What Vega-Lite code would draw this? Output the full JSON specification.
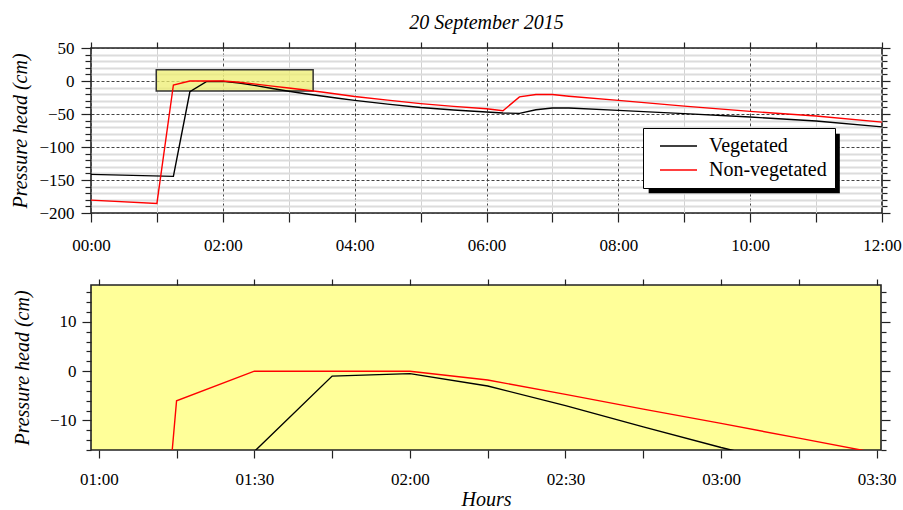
{
  "$schema": "https://vega.github.io/schema/vega-lite/v6.json",
  "padding": {"left": 10, "top": 12, "right": 2, "bottom": 0},
  "background": "white",
  "config": {
    "font": "Liberation Serif",
    "axis": {"domain": false, "labelFont": "Liberation Serif", "labelFontSize": 17, "labelColor": "#000", "titleFont": "Liberation Serif", "titleFontSize": 20, "titleFontWeight": "normal", "titleColor": "#000", "tickColor": "#222", "tickWidth": 1.2, "labelFlush": false, "labelOverlap": false},
    "view": {"stroke": "#222", "strokeWidth": 1.6}
  },
  "datasets": {
    "series": [
      {"site": "Vegetated", "hour": 0, "head": -141.5},
      {"site": "Vegetated", "hour": 1.25, "head": -144.5},
      {"site": "Vegetated", "hour": 1.5, "head": -16.3},
      {"site": "Vegetated", "hour": 1.75, "head": -1},
      {"site": "Vegetated", "hour": 2.0, "head": -0.5},
      {"site": "Vegetated", "hour": 2.25, "head": -3},
      {"site": "Vegetated", "hour": 2.5, "head": -7},
      {"site": "Vegetated", "hour": 2.75, "head": -11.3},
      {"site": "Vegetated", "hour": 3.0, "head": -15.5},
      {"site": "Vegetated", "hour": 3.25, "head": -19.3},
      {"site": "Vegetated", "hour": 3.5, "head": -22.8},
      {"site": "Vegetated", "hour": 3.75, "head": -26.2},
      {"site": "Vegetated", "hour": 4.0, "head": -29.3},
      {"site": "Vegetated", "hour": 4.5, "head": -35},
      {"site": "Vegetated", "hour": 5.0, "head": -40.2},
      {"site": "Vegetated", "hour": 5.5, "head": -44},
      {"site": "Vegetated", "hour": 6.0, "head": -47},
      {"site": "Vegetated", "hour": 6.25, "head": -48.5},
      {"site": "Vegetated", "hour": 6.5, "head": -49},
      {"site": "Vegetated", "hour": 6.75, "head": -43.5},
      {"site": "Vegetated", "hour": 7.0, "head": -41},
      {"site": "Vegetated", "hour": 7.25, "head": -41},
      {"site": "Vegetated", "hour": 8.0, "head": -44.5},
      {"site": "Vegetated", "hour": 9.0, "head": -49.5},
      {"site": "Vegetated", "hour": 10.0, "head": -54.6},
      {"site": "Vegetated", "hour": 11.0, "head": -60.6},
      {"site": "Vegetated", "hour": 12.0, "head": -69.5},
      {"site": "Non-vegetated", "hour": 0, "head": -180.5},
      {"site": "Non-vegetated", "hour": 1.0, "head": -185.5},
      {"site": "Non-vegetated", "hour": 1.25, "head": -6},
      {"site": "Non-vegetated", "hour": 1.5, "head": 0},
      {"site": "Non-vegetated", "hour": 1.75, "head": 0},
      {"site": "Non-vegetated", "hour": 2.0, "head": 0},
      {"site": "Non-vegetated", "hour": 2.25, "head": -1.8},
      {"site": "Non-vegetated", "hour": 2.5, "head": -4.7},
      {"site": "Non-vegetated", "hour": 2.75, "head": -7.7},
      {"site": "Non-vegetated", "hour": 3.0, "head": -10.6},
      {"site": "Non-vegetated", "hour": 3.25, "head": -13.6},
      {"site": "Non-vegetated", "hour": 3.5, "head": -16.6},
      {"site": "Non-vegetated", "hour": 3.75, "head": -20},
      {"site": "Non-vegetated", "hour": 4.0, "head": -23.5},
      {"site": "Non-vegetated", "hour": 4.5, "head": -29},
      {"site": "Non-vegetated", "hour": 5.0, "head": -34.2},
      {"site": "Non-vegetated", "hour": 5.5, "head": -38.5},
      {"site": "Non-vegetated", "hour": 6.0, "head": -42},
      {"site": "Non-vegetated", "hour": 6.25, "head": -45},
      {"site": "Non-vegetated", "hour": 6.5, "head": -24},
      {"site": "Non-vegetated", "hour": 6.75, "head": -20.5},
      {"site": "Non-vegetated", "hour": 7.0, "head": -20.5},
      {"site": "Non-vegetated", "hour": 7.25, "head": -23},
      {"site": "Non-vegetated", "hour": 8.0, "head": -29.4},
      {"site": "Non-vegetated", "hour": 9.0, "head": -38},
      {"site": "Non-vegetated", "hour": 10.0, "head": -46},
      {"site": "Non-vegetated", "hour": 11.0, "head": -53},
      {"site": "Non-vegetated", "hour": 12.0, "head": -62.3}
    ],
    "box": [{"x1": 0.99, "x2": 3.37, "y1": -15, "y2": 17}],
    "shadow": [{"x1": 8.46, "x2": 11.36, "y1": -170, "y2": -80}]
  },
  "resolve": {"scale": {"color": "independent"}, "legend": {"color": "independent"}},
  "spacing": 23,
  "vconcat": [
    {
      "width": 791,
      "height": 165,
      "title": {"text": "20 September 2015", "font": "Liberation Serif", "fontSize": 20, "fontStyle": "italic", "fontWeight": "normal", "color": "#000", "frame": "group", "anchor": "middle", "offset": 6},
      "resolve": {"axis": {"x": "independent", "y": "independent"}},
      "layer": [
        {
          "data": {"name": "box"},
          "mark": {"type": "rect", "fill": "#eeee70", "fillOpacity": 0.75, "stroke": "#333", "strokeWidth": 1.5},
          "encoding": {
            "x": {"field": "x1", "type": "quantitative", "scale": {"domain": [0, 12], "nice": false, "zero": false},
              "axis": {"orient": "bottom", "title": null, "values": [0,1,2,3,4,5,6,7,8,9,10,11,12],
                "labelExpr": "datum.value % 2 === 0 ? (datum.value < 10 ? '0' : '') + datum.value + ':00' : ''",
                "tickSize": 9, "labelPadding": 15, "grid": true,
                "gridColor": {"condition": {"test": "datum.value % 2 === 0", "value": "#444"}, "value": "#d2d2d2"},
                "gridDash": {"condition": {"test": "datum.value % 2 === 0", "value": [3, 2]}, "value": []},
                "gridWidth": 1}},
            "x2": {"field": "x2"},
            "y": {"field": "y1", "type": "quantitative", "scale": {"domain": [-200, 50], "nice": false, "zero": false},
              "axis": {"orient": "left", "title": "Pressure head (cm)", "titleFontStyle": "italic", "titlePadding": 8,
                "values": [-200,-190,-180,-170,-160,-150,-140,-130,-120,-110,-100,-90,-80,-70,-60,-50,-40,-30,-20,-10,0,10,20,30,40,50],
                "labelExpr": "datum.value % 50 === 0 ? datum.label : ''",
                "tickSize": {"condition": {"test": "datum.value % 50 !== 0", "value": 6}, "value": 10},
                "labelPadding": 7, "grid": true,
                "gridColor": {"condition": {"test": "datum.value % 50 === 0", "value": "#444"}, "value": "#dcdcdc"},
                "gridDash": {"condition": {"test": "datum.value % 50 === 0", "value": [3, 2]}, "value": []},
                "gridWidth": {"condition": {"test": "datum.value % 50 === 0", "value": 1}, "value": 2}}},
            "y2": {"field": "y2"}
          }
        },
        {
          "data": {"name": "shadow"},
          "mark": {"type": "rect", "fill": "#000"},
          "encoding": {
            "x": {"field": "x1", "type": "quantitative", "scale": {"domain": [0, 12], "nice": false, "zero": false}, "axis": null},
            "x2": {"field": "x2"},
            "y": {"field": "y1", "type": "quantitative", "scale": {"domain": [-200, 50], "nice": false, "zero": false}, "axis": null},
            "y2": {"field": "y2"}
          }
        },
        {
          "data": {"name": "series"},
          "mark": {"type": "line", "strokeWidth": 1.4},
          "encoding": {
            "x": {"field": "hour", "type": "quantitative", "scale": {"domain": [0, 12], "nice": false, "zero": false},
              "axis": {"orient": "top", "title": null, "labels": false, "grid": false, "tickSize": 6, "values": [0,1,2,3,4,5,6,7,8,9,10,11,12]}},
            "y": {"field": "head", "type": "quantitative", "scale": {"domain": [-200, 50], "nice": false, "zero": false},
              "axis": {"orient": "right", "title": null, "labels": false, "grid": false,
                "values": [-200,-190,-180,-170,-160,-150,-140,-130,-120,-110,-100,-90,-80,-70,-60,-50,-40,-30,-20,-10,0,10,20,30,40,50],
                "tickSize": {"condition": {"test": "datum.value % 50 !== 0", "value": 5}, "value": 8}}},
            "color": {"field": "site", "type": "nominal",
              "scale": {"domain": ["Vegetated", "Non-vegetated"], "range": ["#000000", "#ff0000"]},
              "legend": {"orient": "none", "legendX": 552, "legendY": 80, "title": null, "symbolType": "stroke", "symbolSize": 1369, "symbolStrokeWidth": 1.5, "labelFont": "Liberation Serif", "labelFontSize": 20, "labelColor": "#000", "labelOffset": 11, "padding": 8, "symbolOffset": 8, "fillColor": "white", "strokeColor": "black", "clipHeight": 20, "rowPadding": 4}}
          }
        }
      ]
    },
    {
      "width": 790,
      "height": 165,
      "view": {"fill": "#ffff99", "stroke": "#222", "strokeWidth": 1.6},
      "resolve": {"axis": {"x": "independent", "y": "independent"}},
      "layer": [
        {
          "data": {"name": "series"},
          "mark": {"type": "line", "strokeWidth": 1.4, "clip": true},
          "encoding": {
            "x": {"field": "hour", "type": "quantitative", "scale": {"domain": [0.975, 3.514], "nice": false, "zero": false},
              "axis": {"orient": "bottom", "title": "Hours", "titleFontStyle": "italic", "titleFontSize": 20, "titlePadding": 2,
                "values": [1, 1.25, 1.5, 1.75, 2, 2.25, 2.5, 2.75, 3, 3.25, 3.5],
                "labelExpr": "datum.value % 0.5 === 0 ? '0' + floor(datum.value) + ':' + (datum.value % 1 === 0 ? '00' : '30') : ''",
                "tickSize": 8, "labelPadding": 13, "grid": false}},
            "y": {"field": "head", "type": "quantitative", "scale": {"domain": [-16, 17.5], "nice": false, "zero": false},
              "axis": {"orient": "left", "title": "Pressure head (cm)", "titleFontStyle": "italic", "titlePadding": 17,
                "values": [-16,-14,-12,-10,-8,-6,-4,-2,0,2,4,6,8,10,12,14,16],
                "labelExpr": "datum.value % 10 === 0 ? datum.label : ''",
                "tickSize": {"condition": {"test": "datum.value % 10 !== 0", "value": 5}, "value": 9},
                "labelPadding": 6, "grid": false}},
            "color": {"field": "site", "type": "nominal",
              "scale": {"domain": ["Vegetated", "Non-vegetated"], "range": ["#000000", "#ff0000"]}, "legend": null}
          }
        },
        {
          "mark": {"type": "rule", "stroke": "#000", "strokeWidth": 1.2, "strokeDash": [4, 3]},
          "encoding": {
            "x": {"datum": 0.975, "type": "quantitative", "scale": {"domain": [0.975, 3.514], "nice": false, "zero": false},
              "axis": {"orient": "top", "title": null, "labels": false, "grid": false, "tickSize": 6, "values": [1, 1.25, 1.5, 1.75, 2, 2.25, 2.5, 2.75, 3, 3.25, 3.5]}},
            "x2": {"datum": 3.514},
            "y": {"datum": 0, "type": "quantitative", "scale": {"domain": [-16, 17.5], "nice": false, "zero": false},
              "axis": {"orient": "right", "title": null, "labels": false, "grid": false,
                "values": [-16,-14,-12,-10,-8,-6,-4,-2,0,2,4,6,8,10,12,14,16],
                "tickSize": {"condition": {"test": "datum.value % 10 !== 0", "value": 5}, "value": 9}}}
          }
        }
      ]
    }
  ]
}
